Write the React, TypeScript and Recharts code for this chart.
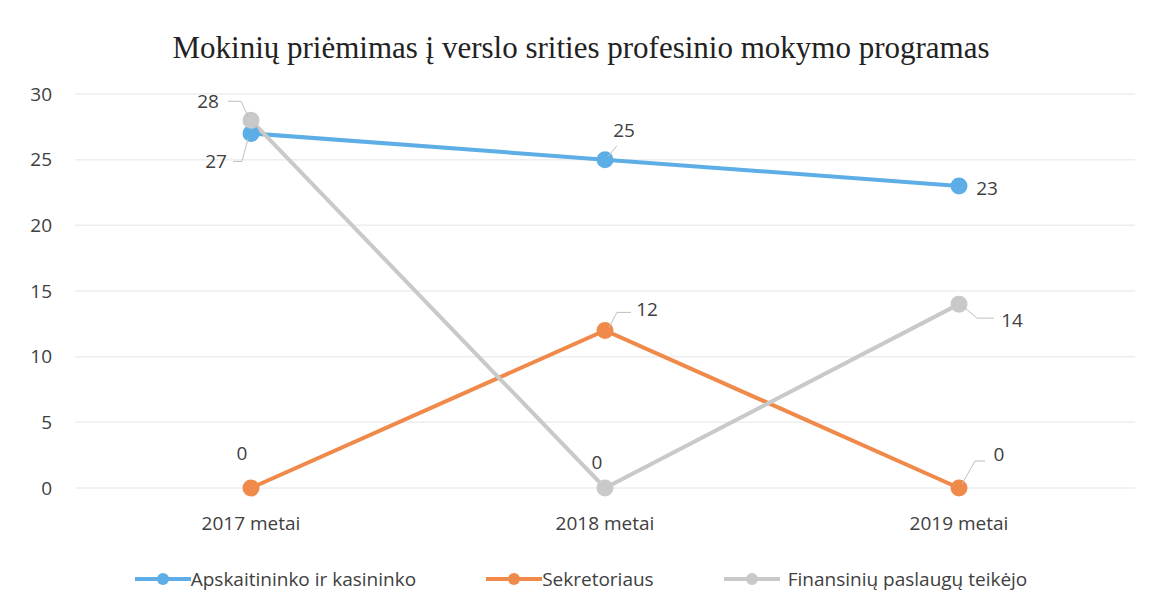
import React from "react";
import { LineChart, Line, XAxis, YAxis, CartesianGrid, LabelList } from "recharts";

const categories = ["2017 metai", "2018 metai", "2019 metai"];
const apskaitininko = [27, 25, 23];
const sekretoriaus = [0, 12, 0];
const finansiniu = [28, 0, 14];
const yTicks = [0, 5, 10, 15, 20, 25, 30];

const data = categories.map((c, i) => ({
  name: c,
  a: apskaitininko[i],
  s: sekretoriaus[i],
  f: finansiniu[i],
}));

const COLORS = { a: "#5DAEE6", s: "#F08A4B", f: "#C9C9C9" };
const TEXT = "#404040";
const SANS = "'Open Sans', 'Liberation Sans', sans-serif";

type LP = { dx: number; dy: number; leader?: [number, number][] };
const labelPos: Record<string, LP[]> = {
  a: [
    { dx: -35, dy: 28, leader: [[-3, 5], [-9, 28], [-18, 28]] },
    { dx: 19, dy: -30, leader: [[3, -3], [12, -14]] },
    { dx: 28, dy: 2 },
  ],
  s: [
    { dx: -9, dy: -35 },
    { dx: 42, dy: -21, leader: [[4, -3], [12, -18], [26, -18]] },
    { dx: 40, dy: -34, leader: [[3, -4], [16, -27], [26, -27]] },
  ],
  f: [
    { dx: -43, dy: -19, leader: [[-3, -4], [-10, -19], [-23, -19]] },
    { dx: -8, dy: -26 },
    { dx: 53, dy: 16, leader: [[5, 3], [18, 14], [35, 14]] },
  ],
};

const makeLabel = (key: string) => (props: any) => {
  const { x, y, value, index } = props;
  const p = labelPos[key][index];
  return (
    <g>
      {p.leader && (
        <polyline
          points={p.leader.map(([lx, ly]) => `${x + lx},${y + ly}`).join(" ")}
          fill="none"
          stroke="#BFBFBF"
          strokeWidth={1}
        />
      )}
      <text
        x={x + p.dx}
        y={y + p.dy}
        textAnchor="middle"
        dominantBaseline="central"
        fontFamily={SANS}
        fontSize={19}
        fill={TEXT}
      >
        {value}
      </text>
    </g>
  );
};

const legendItems = [
  { key: "a", label: "Apskaitininko ir kasininko" },
  { key: "s", label: "Sekretoriaus" },
  { key: "f", label: "Finansinių paslaugų teikėjo" },
];

const LegendContent = () => (
  <div
    style={{
      position: "absolute",
      top: 566,
      left: 0,
      width: 1162,
      display: "flex",
      justifyContent: "center",
      alignItems: "center",
      gap: 70,
      fontFamily: SANS,
      fontSize: 19,
      color: TEXT,
    }}
  >
    {legendItems.map((it) => (
      <div key={it.key} style={{ display: "flex", alignItems: "center" }}>
        <svg width={56} height={16} style={{ marginRight: it.key === "f" ? 8 : 0 }}>
          <line x1={0} y1={8} x2={56} y2={8} stroke={(COLORS as any)[it.key]} strokeWidth={4} />
          <circle cx={28} cy={8} r={6} fill={(COLORS as any)[it.key]} />
        </svg>
        <span>{it.label}</span>
      </div>
    ))}
  </div>
);

export default function App() {
  return (
    <div style={{ width: 1162, height: 612, position: "relative", background: "#fff" }}>
      <style>{`body{margin:0}`}</style>
      <div
        style={{
          position: "absolute",
          top: 30,
          left: 0,
          width: 1162,
          textAlign: "center",
          fontFamily: "'Liberation Serif', 'Times New Roman', serif",
          fontSize: 31,
          color: "#222",
        }}
      >
        Mokinių priėmimas į verslo srities profesinio mokymo programas
      </div>
      <LineChart width={1162} height={612} data={data} margin={{ top: 94, right: 27, left: 0, bottom: 94 }}>
        <CartesianGrid vertical={false} stroke="#EEEEEE" strokeWidth={1.5} />
        <XAxis
          dataKey="name"
          axisLine={false}
          tickLine={false}
          tickSize={0}
          tickMargin={29}
          padding={{ left: 176, right: 176 }}
          tick={{ fontFamily: SANS, fontSize: 19, fill: TEXT }}
        />
        <YAxis
          width={75}
          domain={[0, 30]}
          ticks={yTicks}
          axisLine={false}
          tickLine={false}
          tickSize={0}
          tickMargin={23}
          tick={{ fontFamily: SANS, fontSize: 19, fill: TEXT }}
        />
        <Line dataKey="a" stroke={COLORS.a} strokeWidth={4} dot={{ r: 6.5, fill: COLORS.a, stroke: COLORS.a }} isAnimationActive={false}>
          <LabelList dataKey="a" content={makeLabel("a")} />
        </Line>
        <Line dataKey="s" stroke={COLORS.s} strokeWidth={4} dot={{ r: 6.5, fill: COLORS.s, stroke: COLORS.s }} isAnimationActive={false}>
          <LabelList dataKey="s" content={makeLabel("s")} />
        </Line>
        <Line dataKey="f" stroke={COLORS.f} strokeWidth={4} dot={{ r: 6.5, fill: COLORS.f, stroke: COLORS.f }} isAnimationActive={false}>
          <LabelList dataKey="f" content={makeLabel("f")} />
        </Line>
      </LineChart>
      <LegendContent />
    </div>
  );
}
